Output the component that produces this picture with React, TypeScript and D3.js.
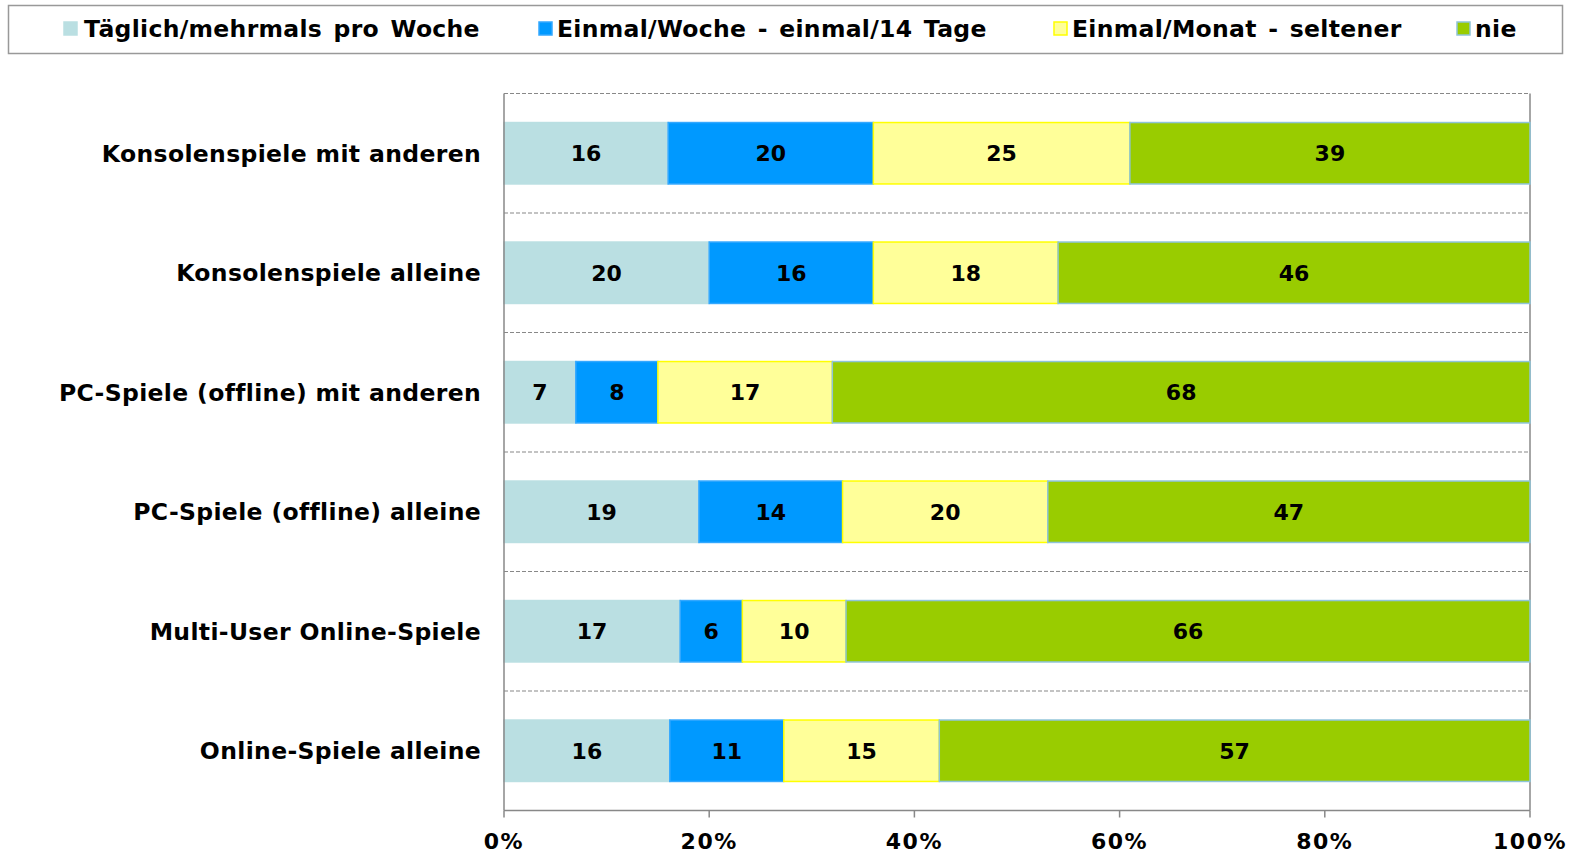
import React from "react";
import * as d3 from "d3";

const categories = [
  "Konsolenspiele mit anderen",
  "Konsolenspiele alleine",
  "PC-Spiele (offline) mit anderen",
  "PC-Spiele (offline) alleine",
  "Multi-User Online-Spiele",
  "Online-Spiele alleine",
];
const seriesNames = [
  "Täglich/mehrmals pro Woche",
  "Einmal/Woche - einmal/14 Tage",
  "Einmal/Monat - seltener",
  "nie",
];
const taeglich = [16, 20, 7, 19, 17, 16];
const woechentlich = [20, 16, 8, 14, 6, 11];
const monatlich = [25, 18, 17, 20, 10, 15];
const nie = [39, 46, 68, 47, 66, 57];
const xTicks = [0, 0.2, 0.4, 0.6, 0.8, 1];

const fills = ["#BADFE2", "#0099FF", "#FFFF99", "#99CC00"];
const strokes = ["#BADFE2", "#33A8FF", "#FFFF00", "#8FC4D8"];

const W = 1580;
const H = 855;
const plotLeft = 504;
const plotRight = 1530;
const plotTop = 93.5;
const plotBottom = 810.5;

const legendItems = [
  { sq: 64, tx: 84 },
  { sq: 539, tx: 557 },
  { sq: 1054, tx: 1072 },
  { sq: 1457, tx: 1475 },
];

export default function App() {
  const series = [taeglich, woechentlich, monatlich, nie];
  const x = d3.scaleLinear().domain([0, 1]).range([plotLeft, plotRight]);
  const y = d3
    .scaleBand<string>()
    .domain(categories)
    .range([plotTop, plotBottom])
    .paddingInner(0.486)
    .paddingOuter(0.243);

  const rows = categories.map((c, i) => {
    const vals = series.map((s) => s[i]);
    const total = d3.sum(vals);
    let cum = 0;
    return vals.map((v, k) => {
      const x0 = cum / total;
      cum += v;
      const x1 = cum / total;
      return { c, v, k, x0, x1 };
    });
  });

  const step = (plotBottom - plotTop) / categories.length;
  const gridYs = d3.range(categories.length + 1).map((i) => plotTop + i * step);
  const font = "'DejaVu Sans', Verdana, sans-serif";

  return (
    <svg
      width={W}
      height={H}
      style={{ position: "absolute", left: 0, top: 0, background: "#fff" }}
    >
      {/* legend */}
      <rect x={8.5} y={5.5} width={1554} height={48} fill="#fff" stroke="#999" strokeWidth={1.5} />
      {seriesNames.map((n, k) => (
        <g key={n}>
          <rect
            x={legendItems[k].sq}
            y={22}
            width={13}
            height={13}
            fill={fills[k]}
            stroke={strokes[k]}
            strokeWidth={1.5}
          />
          <text
            x={legendItems[k].tx}
            y={29}
            dy="0.36em"
            fontFamily={font}
            fontWeight="bold"
            fontSize={23.5}
            letterSpacing={0.3}
            wordSpacing={3}
            fill="#000"
          >
            {n}
          </text>
        </g>
      ))}

      {/* dashed grid lines */}
      {gridYs.slice(0, -1).map((gy, i) => (
        <line
          key={i}
          x1={plotLeft}
          x2={plotRight}
          y1={gy}
          y2={gy}
          stroke="#888"
          strokeWidth={1.2}
          strokeDasharray="4,2"
        />
      ))}
      <line x1={plotRight} x2={plotRight} y1={plotTop} y2={plotBottom} stroke="#888" strokeWidth={1.5} />

      {/* bars */}
      {rows.map((segs, i) =>
        segs.map((s) => (
          <g key={`${i}-${s.k}`}>
            <rect
              x={x(s.x0)}
              y={y(s.c)!}
              width={x(s.x1) - x(s.x0)}
              height={y.bandwidth()}
              fill={fills[s.k]}
              stroke={strokes[s.k]}
              strokeWidth={1.5}
            />
            <text
              x={(x(s.x0) + x(s.x1)) / 2}
              y={y(s.c)! + y.bandwidth() / 2}
              dy="0.36em"
              textAnchor="middle"
              fontFamily={font}
              fontWeight="bold"
              fontSize={22}
              fill="#000"
            >
              {s.v}
            </text>
          </g>
        ))
      )}

      {/* category labels */}
      {categories.map((c) => (
        <text
          key={c}
          x={481}
          y={y(c)! + y.bandwidth() / 2}
          dy="0.36em"
          textAnchor="end"
          fontFamily={font}
          fontWeight="bold"
          fontSize={23.5}
          letterSpacing={0.35}
          fill="#000"
        >
          {c}
        </text>
      ))}

      {/* axes */}
      <line x1={plotLeft} x2={plotLeft} y1={plotTop} y2={plotBottom} stroke="#888" strokeWidth={1.5} />
      <line x1={plotLeft} x2={plotRight} y1={plotBottom} y2={plotBottom} stroke="#888" strokeWidth={1.5} />
      {xTicks.map((t) => (
        <g key={t}>
          <line x1={x(t)} x2={x(t)} y1={plotBottom} y2={plotBottom + 7} stroke="#888" strokeWidth={1.5} />
          <text
            x={x(t)}
            y={841}
            dy="0.36em"
            textAnchor="middle"
            fontFamily={font}
            fontWeight="bold"
            fontSize={22}
            letterSpacing={1.5}
            fill="#000"
          >
            {d3.format(".0%")(t)}
          </text>
        </g>
      ))}
    </svg>
  );
}
